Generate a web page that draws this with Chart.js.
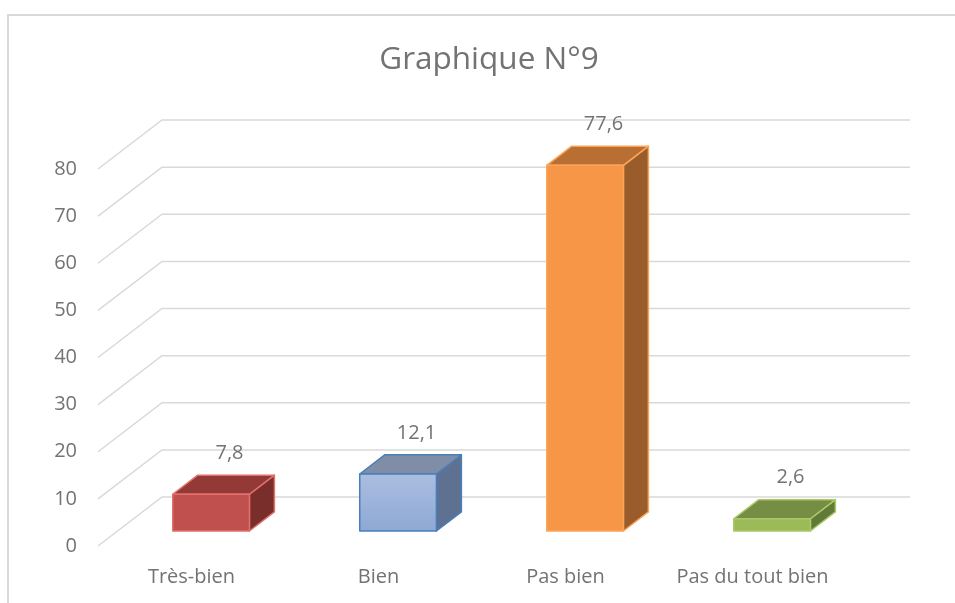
<!DOCTYPE html>
<html>
<head>
<meta charset="utf-8">
<script src="https://cdn.jsdelivr.net/npm/chart.js@4.4.1/dist/chart.umd.min.js"></script>
<style>
    html, body { margin: 0; padding: 0; background: #fff; overflow: hidden; }
    #wrap { position: relative; width: 955px; height: 603px; }
    #frame { position: absolute; left: 7px; top: 14px; width: 1000px; height: 700px;
             border-left: 2px solid #d9d9d9; border-top: 2px solid #d9d9d9; }
    #c { position: absolute; left: 0; top: 0; }
</style>
</head>
<body>
<div id="wrap">
    <div id="frame"></div>
    <canvas id="c" width="955" height="603"></canvas>
</div>
<script>
    var categories = ["Très-bien", "Bien", "Pas bien", "Pas du tout bien"];
    var values = [7.8, 12.1, 77.6, 2.6];
    var valueLabels = ["7,8", "12,1", "77,6", "2,6"];
    var yMax = 80;
    var yStep = 10;

    // face colours: front / top / side / edge
    var frontColors = ["#c0504d", "#abbedf", "#f79646", "#9bbb59"];
    var frontColorsLow = ["#c0504d", "#8ea8d5", "#f79646", "#9bbb59"];
    var topColors = ["#933a37", "#7f8ea6", "#b96f34", "#768d44"];
    var sideColors = ["#7a2e2c", "#5e7190", "#9a5c2a", "#627a37"];
    var edgeColors = ["#e0716d", "#4a7ebb", "#fba459", "#a9c86a"];

    var textColor = "#737373";
    var gridColor = "#d9d9d9";
    var fontFamily = "'Open Sans', sans-serif";

    // oblique 3D projection: full floor depth, bar placement inside it
    var floorDx = 64, floorDy = -49;
    var barFront = 0.306, barDepth = 0.39;

    var box3d = {
        id: "box3d",
        beforeDatasetsDraw: function (chart) {
            var ctx = chart.ctx;
            var y = chart.scales.y;
            var area = chart.chartArea;
            ctx.save();
            ctx.strokeStyle = gridColor;
            ctx.lineWidth = 1.5;
            y.ticks.forEach(function (t) {
                var py = y.getPixelForValue(t.value);
                ctx.beginPath();
                ctx.moveTo(area.left, py);
                ctx.lineTo(area.left + floorDx, py + floorDy);
                ctx.lineTo(area.right + floorDx, py + floorDy);
                ctx.stroke();
            });
            ctx.restore();
        },
        afterDatasetsDraw: function (chart) {
            var ctx = chart.ctx;
            var meta = chart.getDatasetMeta(0);
            var ox = floorDx * barFront, oy = floorDy * barFront;
            var dx = floorDx * barDepth, dy = floorDy * barDepth;
            ctx.save();
            ctx.lineJoin = "round";
            meta.data.forEach(function (bar, i) {
                var x0 = bar.x - bar.width / 2 + ox;
                var x1 = bar.x + bar.width / 2 + ox;
                var yt = bar.y + oy;
                var yb = bar.base + oy;

                var grad = ctx.createLinearGradient(0, yt, 0, yb);
                grad.addColorStop(0, frontColors[i]);
                grad.addColorStop(1, frontColorsLow[i]);

                ctx.strokeStyle = edgeColors[i];
                ctx.lineWidth = 1.5;

                // side
                ctx.beginPath();
                ctx.moveTo(x1, yt);
                ctx.lineTo(x1 + dx, yt + dy);
                ctx.lineTo(x1 + dx, yb + dy);
                ctx.lineTo(x1, yb);
                ctx.closePath();
                ctx.fillStyle = sideColors[i];
                ctx.fill();
                ctx.stroke();

                // top
                ctx.beginPath();
                ctx.moveTo(x0, yt);
                ctx.lineTo(x0 + dx, yt + dy);
                ctx.lineTo(x1 + dx, yt + dy);
                ctx.lineTo(x1, yt);
                ctx.closePath();
                ctx.fillStyle = topColors[i];
                ctx.fill();
                ctx.stroke();

                // front
                ctx.fillStyle = grad;
                ctx.fillRect(x0, yt, x1 - x0, yb - yt);
                ctx.strokeRect(x0, yt, x1 - x0, yb - yt);

                // value label
                ctx.fillStyle = textColor;
                ctx.font = "20px " + fontFamily;
                ctx.textAlign = "center";
                ctx.textBaseline = "middle";
                ctx.fillText(valueLabels[i], bar.x + 38, bar.y - 56);
            });
            ctx.restore();
        }
    };

    new Chart(document.getElementById("c"), {
        type: "bar",
        data: {
            labels: categories,
            datasets: [{
                data: values,
                backgroundColor: "rgba(0,0,0,0)",
                borderWidth: 0,
                barPercentage: 0.41,
                categoryPercentage: 1
            }]
        },
        options: {
            responsive: false,
            animation: false,
            events: [],
            // title is centred on the whole box, so shift it with the padding
            layout: { padding: { left: 23, right: 0, top: 0, bottom: 0 } },
            plugins: {
                legend: { display: false },
                tooltip: { enabled: false },
                title: {
                    display: true,
                    text: "Graphique N°9",
                    color: textColor,
                    font: { family: fontFamily, size: 31.5, weight: "normal", lineHeight: 1.2 },
                    padding: { top: 41, bottom: 90.2 }
                }
            },
            scales: {
                x: {
                    grid: { display: false, drawTicks: false },
                    border: { display: false },
                    ticks: { color: textColor, font: { family: fontFamily, size: 20 }, padding: 19, maxRotation: 0 },
                    afterFit: function (s) { s.height = 57; }
                },
                y: {
                    min: 0,
                    max: yMax,
                    grid: { display: false, drawTicks: false },
                    border: { display: false },
                    ticks: { stepSize: yStep, color: textColor, font: { family: fontFamily, size: 20 }, padding: 21 },
                    afterFit: function (s) { s.width = 75; }
                },
                // empty box on the right to keep the floor depth inside the frame
                yRight: {
                    position: "right",
                    grid: { display: false, drawTicks: false },
                    border: { display: false },
                    ticks: { display: false },
                    afterFit: function (s) { s.width = 109; }
                }
            }
        },
        plugins: [box3d]
    });
</script>
</body>
</html>
